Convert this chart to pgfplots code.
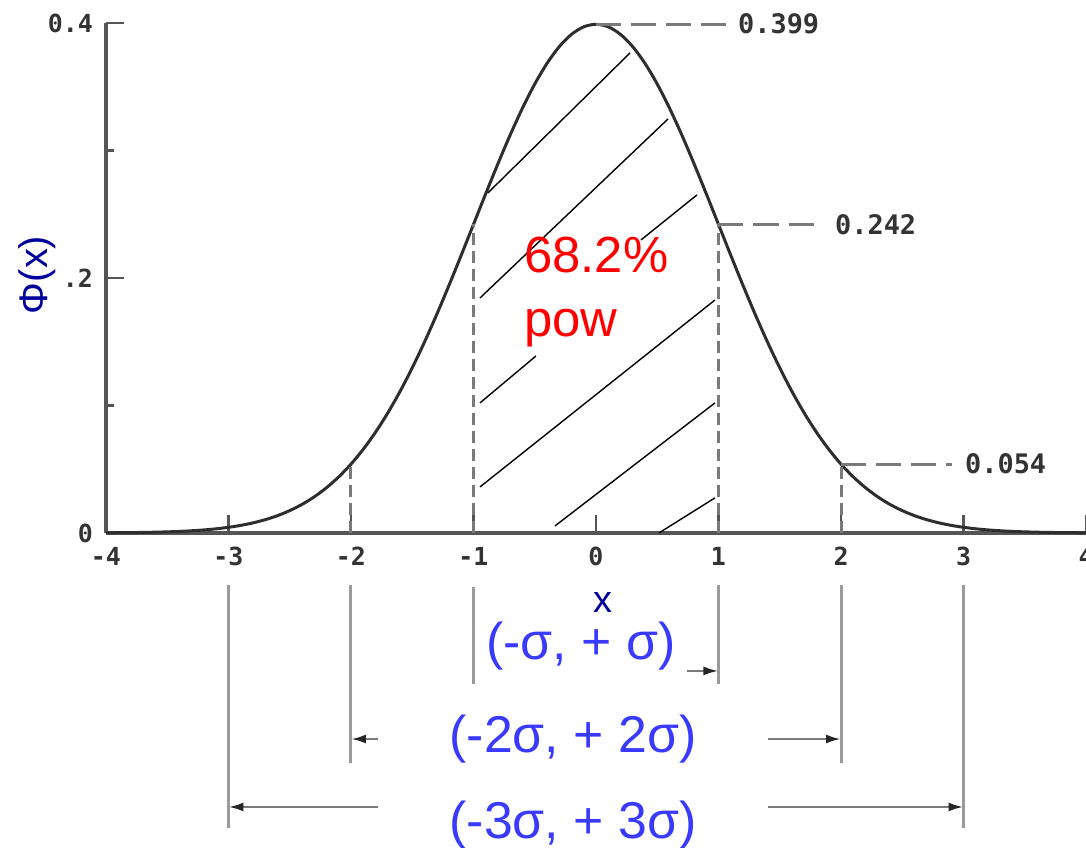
\documentclass[border=0pt]{standalone}
\usepackage{fontspec}
\setmainfont{Liberation Sans}
\newfontfamily\tickfont{DejaVu Sans Mono}
\usepackage{pgfplots}
\pgfplotsset{compat=1.18}
\usetikzlibrary{arrows.meta}

\definecolor{curvegray}{HTML}{2E2E2E}
\definecolor{dashgray}{HTML}{7A7A7A}
\definecolor{axisgray}{HTML}{555555}
\definecolor{bracketgray}{HTML}{9A9A9A}
\definecolor{navy}{HTML}{00009A}
\definecolor{sigmablue}{HTML}{3A3AFF}
\definecolor{labelgray}{HTML}{333333}

\tikzset{
  hatch/.style={black, line width=1.4bp},
  vdash/.style={dashgray, line width=3bp, dash pattern=on 12bp off 6bp},
  hdash/.style={dashgray, line width=3bp, dash pattern=on 25bp off 10bp},
  bracket/.style={bracketgray, line width=3bp},
  span/.style={dashgray, line width=2.5bp, -{Latex[length=15bp,width=9bp,color=black!85]}},
  vallabel/.style={anchor=west, inner sep=0pt, text=labelgray, font=\tickfont\bfseries\fontsize{27}{27}\selectfont},
  rowlabel/.style={anchor=base, inner sep=0pt, text=sigmablue, font=\fontsize{52}{52}\selectfont},
}

% standard normal density, step 0.1
\pgfplotstableread{
x y
-4.0 0.00013
-3.9 0.00020
-3.8 0.00029
-3.7 0.00042
-3.6 0.00061
-3.5 0.00087
-3.4 0.00123
-3.3 0.00172
-3.2 0.00238
-3.1 0.00327
-3.0 0.00443
-2.9 0.00595
-2.8 0.00792
-2.7 0.01042
-2.6 0.01358
-2.5 0.01753
-2.4 0.02239
-2.3 0.02833
-2.2 0.03547
-2.1 0.04398
-2.0 0.05399
-1.9 0.06562
-1.8 0.07895
-1.7 0.09405
-1.6 0.11092
-1.5 0.12952
-1.4 0.14973
-1.3 0.17137
-1.2 0.19419
-1.1 0.21785
-1.0 0.24197
-0.9 0.26609
-0.8 0.28969
-0.7 0.31225
-0.6 0.33322
-0.5 0.35207
-0.4 0.36827
-0.3 0.38139
-0.2 0.39104
-0.1 0.39695
0.0 0.39894
0.1 0.39695
0.2 0.39104
0.3 0.38139
0.4 0.36827
0.5 0.35207
0.6 0.33322
0.7 0.31225
0.8 0.28969
0.9 0.26609
1.0 0.24197
1.1 0.21785
1.2 0.19419
1.3 0.17137
1.4 0.14973
1.5 0.12952
1.6 0.11092
1.7 0.09405
1.8 0.07895
1.9 0.06562
2.0 0.05399
2.1 0.04398
2.2 0.03547
2.3 0.02833
2.4 0.02239
2.5 0.01753
2.6 0.01358
2.7 0.01042
2.8 0.00792
2.9 0.00595
3.0 0.00443
3.1 0.00327
3.2 0.00238
3.3 0.00172
3.4 0.00123
3.5 0.00087
3.6 0.00061
3.7 0.00042
3.8 0.00029
3.9 0.00020
4.0 0.00013
}\density

\begin{document}
\begin{tikzpicture}
\begin{axis}[
  scale only axis, width=980bp, height=510bp,
  xmin=-4, xmax=4, ymin=0, ymax=0.4,
  axis lines=left,
  axis line style={-, line width=4bp, axisgray},
  clip=false,
  tick align=inside,
  major tick length=18bp, minor tick length=8bp,
  tick style={line width=2.5bp, axisgray},
  xtick={-4,-3,-2,-1,0,1,2,3,4},
  xticklabels={-4,-3,-2,-1,0,1,2,3,4},
  ytick={0,0.2,0.4}, yticklabels={0,.2,0.4},
  minor ytick={0.1,0.3},
  ticklabel style={font=\tickfont\bfseries\fontsize{25}{25}\selectfont, text=labelgray, inner sep=0pt},
  xticklabel shift=14bp, yticklabel shift=13bp,
]

% density curve
\addplot[curvegray, line width=3bp, smooth] table[x=x, y=y] {\density};

% hatching of the one-sigma band
\addplot[hatch] coordinates {(-0.882,0.2667) (0.278,0.3765)};
\addplot[hatch] coordinates {(-0.947,0.1843) (0.588,0.3247)};
\addplot[hatch] coordinates {(-0.947,0.1020) (-0.490,0.1388)};
\addplot[hatch] coordinates {(0.367,0.2298) (0.824,0.2651)};
\addplot[hatch] coordinates {(-0.947,0.0361) (0.971,0.1827)};
\addplot[hatch] coordinates {(-0.335,0.0055) (0.971,0.1020)};
\addplot[hatch] coordinates {(0.514,0.0) (0.971,0.0275)};

% ordinates at +-1 and +-2
\addplot[vdash] coordinates {(-2,0) (-2,0.054)};
\addplot[vdash] coordinates {(-1,0) (-1,0.242)};
\addplot[vdash] coordinates {(1,0) (1,0.242)};
\addplot[vdash] coordinates {(2,0) (2,0.054)};

% value leaders
\addplot[hdash] coordinates {(0,0.399) (1.078,0.399)};
\addplot[hdash] coordinates {(1,0.242) (1.845,0.242)};
\addplot[hdash] coordinates {(2,0.054) (2.906,0.054)};
\node[vallabel] at (axis cs:1.159,0.399) {0.399};
\node[vallabel] at (axis cs:1.951,0.242) {0.242};
\node[vallabel] at (axis cs:3.012,0.054) {0.054};

% interval brackets below the axis
\addplot[bracket] coordinates {(-1,-0.042) (-1,-0.1184)};
\addplot[bracket] coordinates {(1,-0.041) (1,-0.1184)};
\addplot[bracket] coordinates {(-2,-0.041) (-2,-0.1804)};
\addplot[bracket] coordinates {(2,-0.041) (2,-0.1804)};
\addplot[bracket] coordinates {(-3,-0.041) (-3,-0.2314)};
\addplot[bracket] coordinates {(3,-0.041) (3,-0.2314)};
\addplot[span] coordinates {(0.743,-0.1082) (1,-0.1082)};
\addplot[span] coordinates {(-1.780,-0.1616) (-2,-0.1616)};
\addplot[span] coordinates {(1.404,-0.1616) (2,-0.1616)};
\addplot[span] coordinates {(-1.780,-0.2149) (-3,-0.2149)};
\addplot[span] coordinates {(1.404,-0.2149) (3,-0.2149)};

\node[rowlabel] at (axis cs:-0.122,-0.0996) {(-σ, + σ)};
\node[rowlabel] at (axis cs:-0.188,-0.1718) {(-2σ, + 2σ)};
\node[rowlabel] at (axis cs:-0.188,-0.2400) {(-3σ, + 3σ)};

% shaded-area caption
\node[anchor=base west, inner sep=0pt, text=red, font=\fontsize{51}{51}\selectfont] at (axis cs:-0.588,0.2039) {68.2\%};
\node[anchor=base west, inner sep=0pt, text=red, font=\fontsize{51}{51}\selectfont] at (axis cs:-0.588,0.1537) {pow};

% axis titles
\node[text=navy, inner sep=0pt, font=\fontsize{38}{38}\selectfont] at (axis cs:0.057,-0.0545) {x};
\node[rotate=90, text=navy, inner sep=0pt, font=\fontsize{40}{40}\selectfont] at (axis cs:-4.563,0.2024) {Φ(x)};

\coordinate (bbsw) at (axis cs:-4.865,-0.247);
\coordinate (bbne) at (axis cs:4,0.418);
\end{axis}
\pgfresetboundingbox
\useasboundingbox (bbsw) rectangle (bbne);
\end{tikzpicture}
\end{document}
